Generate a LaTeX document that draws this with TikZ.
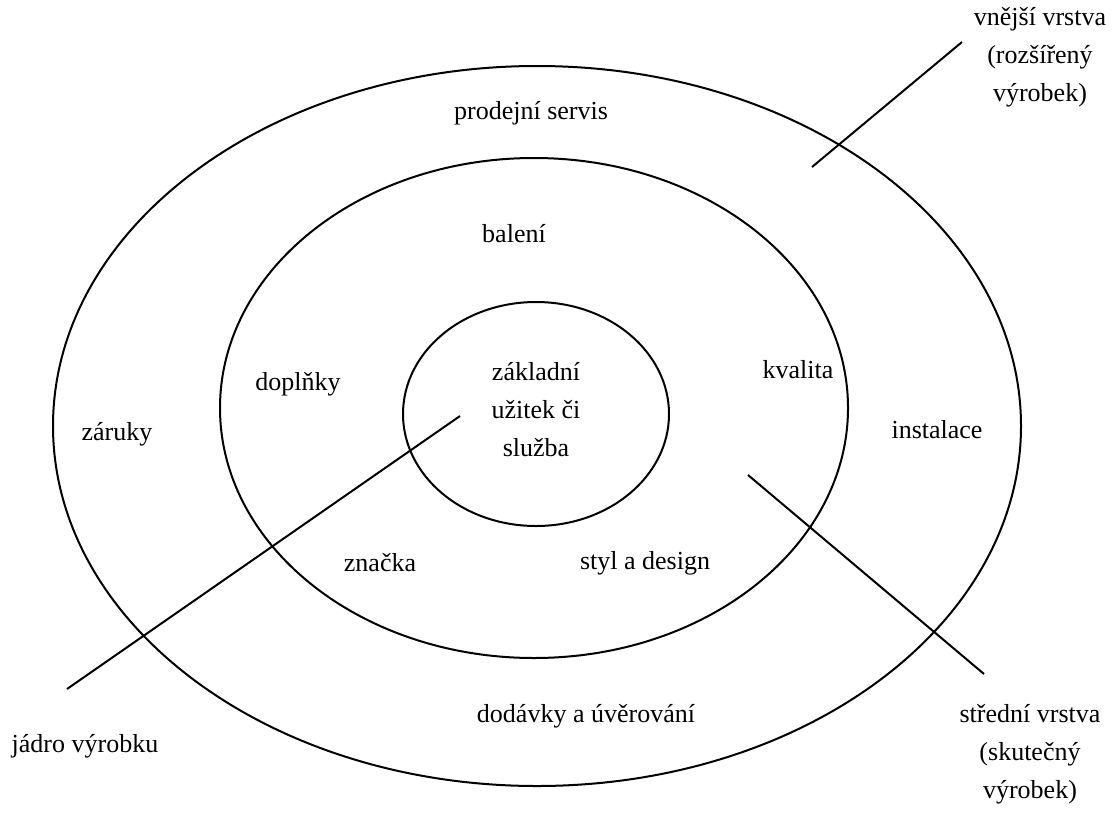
\documentclass[tikz,border=0pt]{standalone}
\usepackage{fontspec}
\setmainfont{Liberation Serif}
\begin{document}
\begin{tikzpicture}[x=0.5pt,y=-0.5pt,
  lbl/.style={font=\fontsize{13}{19}\selectfont, inner sep=0pt, align=center},
  ring/.style={draw=black, line width=1pt},
  leader/.style={draw=black, line width=1pt}]
\useasboundingbox (0,0) rectangle (1112,819);
% ellipses
\draw[ring] (537,426) ellipse [x radius=484, y radius=360];
\draw[ring] (534,408) ellipse [x radius=314, y radius=250];
\draw[ring] (536,414) ellipse [x radius=133, y radius=112];
% labels
\node[lbl] (ps) at (531,113) {prodejní servis};
\node[lbl] (bal) at (514,234) {balení};
\node[lbl] (dop) at (298,384) {doplňky};
\node[lbl] (zak) at (536,410) {základní\\užitek či\\služba};
\node[lbl] (kva) at (798,370) {kvalita};
\node[lbl] (zar) at (117,434) {záruky};
\node[lbl] (ins) at (937,430) {instalace};
\node[lbl] (zna) at (380,563) {značka};
\node[lbl] (sty) at (645,563) {styl a design};
\node[lbl] (dod) at (586,716) {dodávky a úvěrování};
\node[lbl] (jad) at (85,746) {jádro výrobku};
\node[lbl] (str) at (1030,754) {střední vrstva\\(skutečný\\výrobek)};
\node[lbl] (vne) at (1040,57) {vnější vrstva\\(rozšířený\\výrobek)};
% leaders
\coordinate (a1) at (812,167);
\coordinate (a2) at (962,42);
\coordinate (b1) at (460,416);
\coordinate (b2) at (67,689);
\coordinate (c1) at (748,475);
\coordinate (c2) at (984,674);
\draw[leader] (a1) -- (a2);
\draw[leader] (b1) -- (b2);
\draw[leader] (c1) -- (c2);
\end{tikzpicture}
\end{document}
